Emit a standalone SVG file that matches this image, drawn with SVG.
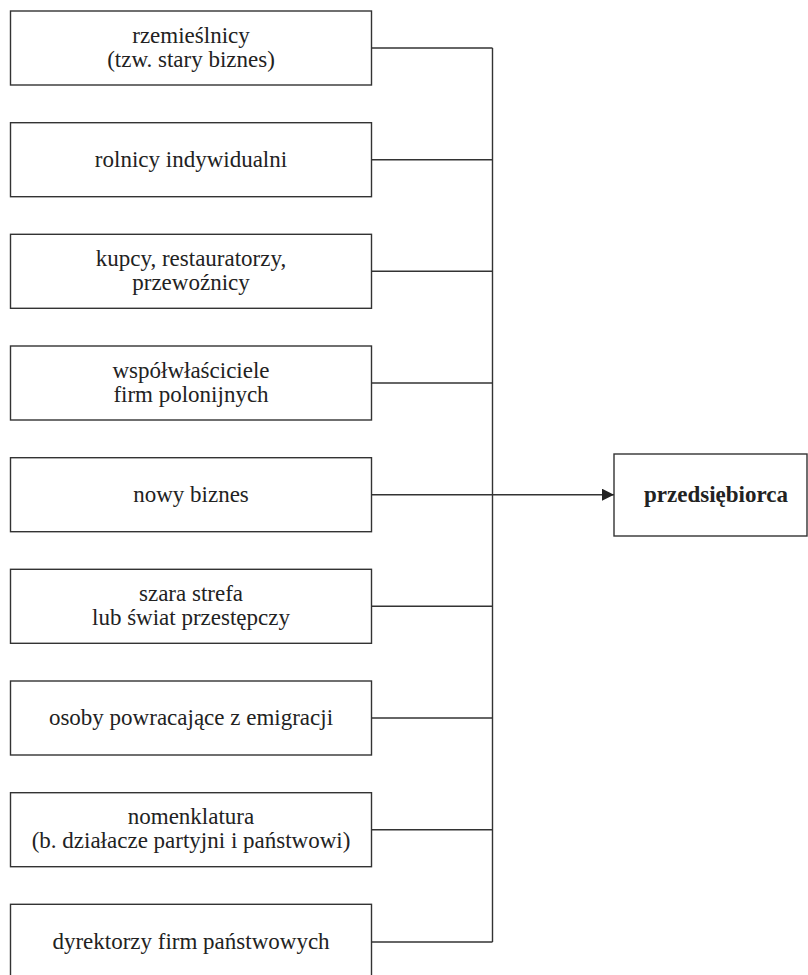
<svg xmlns="http://www.w3.org/2000/svg" width="808" height="975" viewBox="0 0 808 975">
<style>
.box{fill:#fff;stroke:#333;stroke-width:1.4}
.lbl{font-family:"Liberation Serif","Times New Roman",serif;font-size:23px;fill:#222;text-anchor:middle}
.b{font-weight:bold}
.con{fill:none;stroke:#333;stroke-width:1.4}
</style>
<defs>
<marker id="arr" markerWidth="12" markerHeight="12" refX="12" refY="6" orient="auto" markerUnits="userSpaceOnUse">
<path d="M0,0 L12,6 L0,12 Z" fill="#222"/>
</marker>
</defs>
<g id="connectors">
<path class="con" d="M492.5,48 V942"/>
<path class="con" d="M371.5,48 H492.5"/>
<path class="con" d="M371.5,159.7 H492.5"/>
<path class="con" d="M371.5,271.3 H492.5"/>
<path class="con" d="M371.5,383 H492.5"/>
<path class="con" d="M371.5,494.7 H614" marker-end="url(#arr)"/>
<path class="con" d="M371.5,606.3 H492.5"/>
<path class="con" d="M371.5,718 H492.5"/>
<path class="con" d="M371.5,829.7 H492.5"/>
<path class="con" d="M371.5,942 H492.5"/>
</g>
<g id="n1"><rect class="box" x="10.5" y="11" width="361" height="74"/><text class="lbl" x="191" y="42.5">rzemieślnicy</text><text class="lbl" x="191" y="66.5">(tzw. stary biznes)</text></g>
<g id="n2"><rect class="box" x="10.5" y="122.7" width="361" height="74"/><text class="lbl" x="191" y="166.5">rolnicy indywidualni</text></g>
<g id="n3"><rect class="box" x="10.5" y="234.3" width="361" height="74"/><text class="lbl" x="191" y="265.5">kupcy, restauratorzy,</text><text class="lbl" x="191" y="289.5">przewoźnicy</text></g>
<g id="n4"><rect class="box" x="10.5" y="346" width="361" height="74"/><text class="lbl" x="191" y="377.5">współwłaściciele</text><text class="lbl" x="191" y="401.5">firm polonijnych</text></g>
<g id="n5"><rect class="box" x="10.5" y="457.7" width="361" height="74"/><text class="lbl" x="191" y="501.5">nowy biznes</text></g>
<g id="n6"><rect class="box" x="10.5" y="569.3" width="361" height="74"/><text class="lbl" x="191" y="600.5">szara strefa</text><text class="lbl" x="191" y="624.5">lub świat przestępczy</text></g>
<g id="n7"><rect class="box" x="10.5" y="681" width="361" height="74"/><text class="lbl" x="191" y="725">osoby powracające z emigracji</text></g>
<g id="n8"><rect class="box" x="10.5" y="792.7" width="361" height="74"/><text class="lbl" x="191" y="824">nomenklatura</text><text class="lbl" x="191" y="848">(b. działacze partyjni i państwowi)</text></g>
<g id="n9"><rect class="box" x="10.5" y="904.3" width="361" height="74"/><text class="lbl" x="191" y="949">dyrektorzy firm państwowych</text></g>
<g id="target"><rect class="box" x="614" y="454" width="193" height="82"/><text class="lbl b" x="716" y="502">przedsiębiorca</text></g>
</svg>
